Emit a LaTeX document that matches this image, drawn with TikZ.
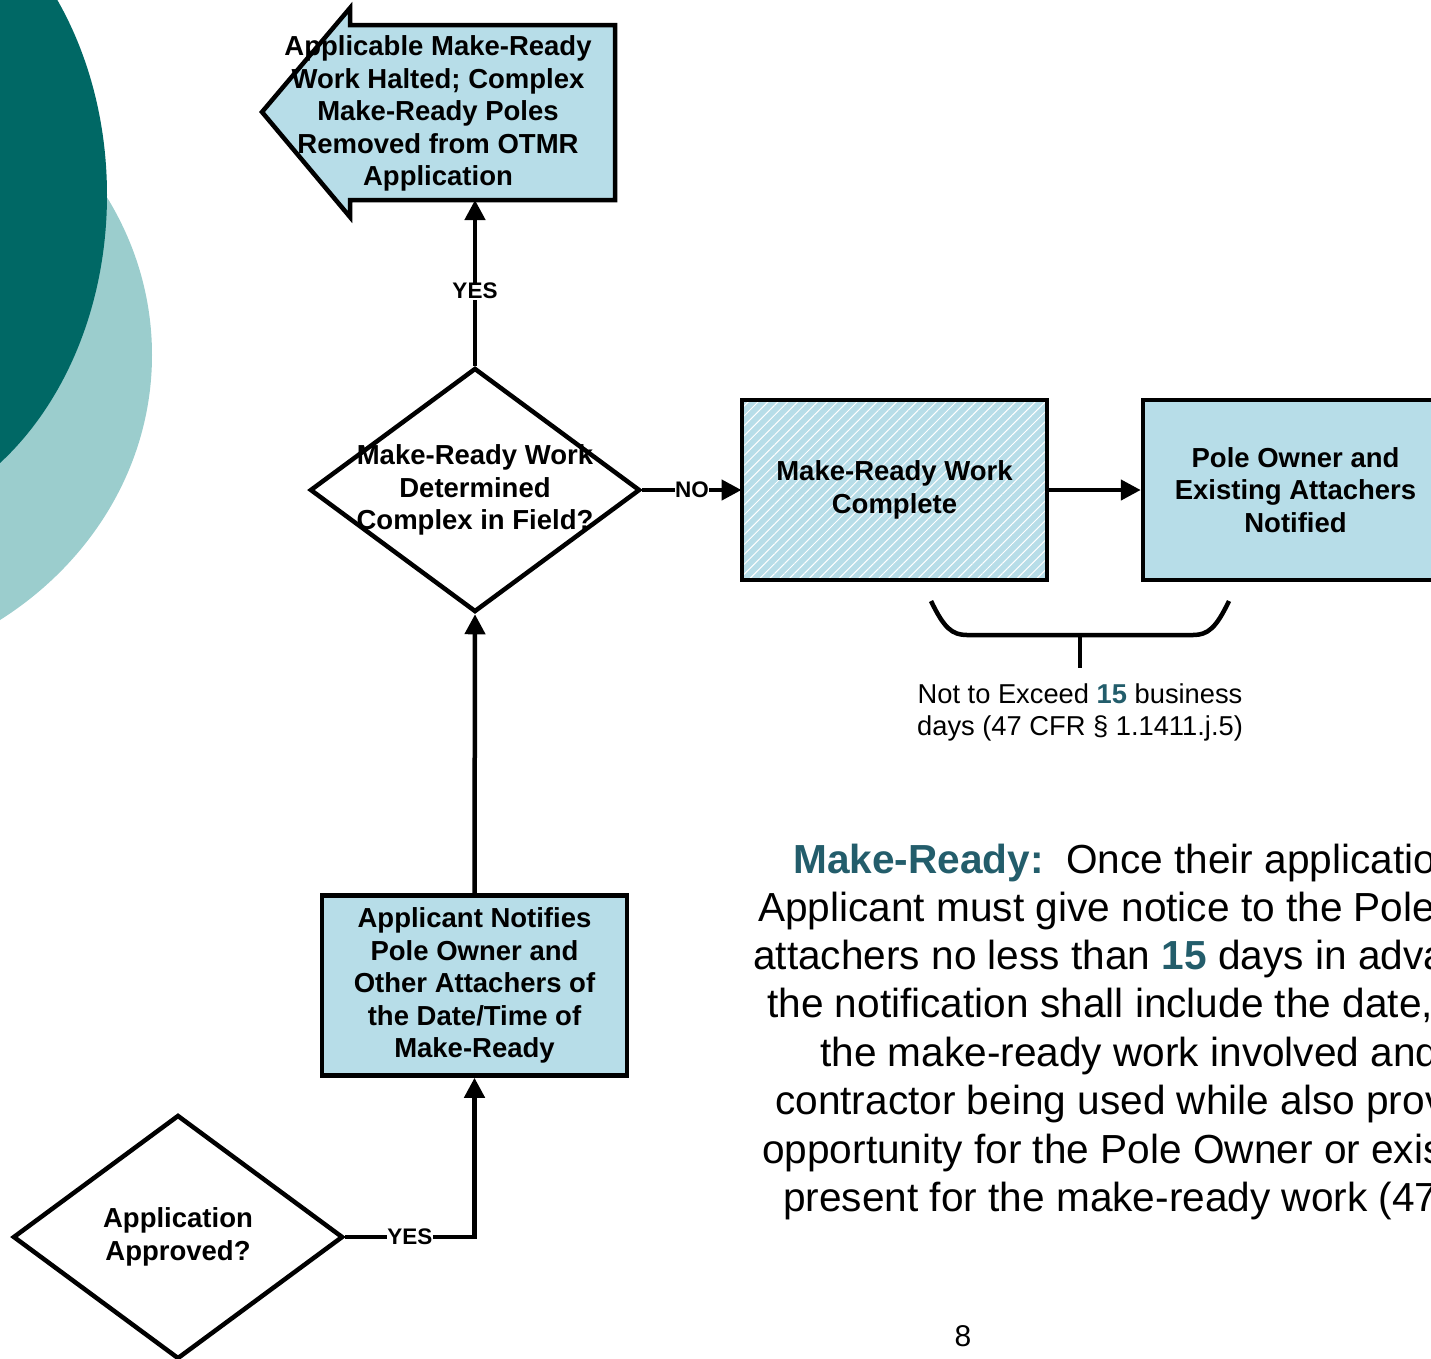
\documentclass[tikz,border=0pt]{standalone}
\usepackage{fontspec}
\setmainfont{Liberation Sans}
\usepackage{xcolor}
\usetikzlibrary{arrows.meta,shapes.geometric,patterns.meta}

\definecolor{boxblue}{RGB}{183,221,232}
\definecolor{deepteal}{RGB}{0,104,101}
\definecolor{paleteal}{RGB}{155,205,205}
\definecolor{keyteal}{RGB}{35,93,107}

\begin{document}
\begin{tikzpicture}[x=1pt,y=-1pt]
\tikzset{box/.style={draw,line width=4.5pt,fill=boxblue,minimum width=305pt,minimum height=180pt,inner sep=0pt}}
\tikzset{hatchbox/.style={draw,line width=4.5pt,preaction={fill=boxblue},pattern={Lines[angle=45,distance=7pt,line width=1pt]},pattern color=white,minimum width=305pt,minimum height=180pt,inner sep=0pt}}
\tikzset{decision/.style={diamond,draw,line width=4.5pt,fill=white,minimum width=330pt,minimum height=244pt,inner sep=0pt}}
\tikzset{flowtext/.style={font=\fontsize{27.5}{32.6}\selectfont\bfseries,align=center}}
\tikzset{conn/.style={line width=4.5pt,-{Triangle[length=20pt,width=20pt]}}}
\tikzset{answer/.style={fill=white,inner sep=0.5pt,font=\fontsize{22.5}{24}\selectfont\bfseries}}
\tikzset{bodyline/.style={anchor=base west,inner sep=0pt,font=\fontsize{40.6}{48}\selectfont}}

\useasboundingbox (0,0) rectangle (1431,1358);
\clip (0,0) rectangle (1431,1358);

\fill[paleteal] (-200,355) ellipse [x radius=352, y radius=322];
\fill[deepteal] (-150,195) ellipse [x radius=257, y radius=330];

\draw[line width=4.5pt,fill=boxblue] (615,25) -- (350,25) -- (350,8) -- (262,112) -- (350,217) -- (350,200) -- (615,200) -- cycle;
\coordinate (haltfoot) at (475,200);
\node[flowtext] (halt) at (438,113.5) {Applicable Make-Ready\\Work Halted; Complex\\Make-Ready Poles\\Removed from OTMR\\Application};

\node[decision] (field) at (475,490) {};
\node[flowtext] (fieldtext) at (field) {Make-Ready Work\\Determined\\Complex in Field?};
\node[hatchbox,flowtext] (done) at (894.5,490) {Make-Ready Work\\Complete};
\node[box,flowtext] (notified) at (1295.5,490) {Pole Owner and\\Existing Attachers\\Notified};
\node[box,flowtext] (notice) at (474.5,985.5) {Applicant Notifies\\Pole Owner and\\Other Attachers of\\the Date/Time of\\Make-Ready};
\node[decision] (approved) at (178,1237) {};
\node[flowtext] (approvedtext) at (approved) {Application\\Approved?};

\draw[conn] (approved.east) -- node[answer] {YES} (approved.east -| notice.south) -- (notice.south);
\draw[conn] (notice.north) -- (field.south);
\draw[conn] (field.north) -- node[answer,pos=0.45] {YES} (haltfoot);
\draw[conn] (field.east) -- node[answer] {NO} (done.west);
\draw[conn] (done.east) -- (notified.west);

\draw[line width=4.5pt] (931,601) .. controls (944,628) and (952,635) .. (967,635) -- (1193,635) .. controls (1208,635) and (1216,628) .. (1229,601);
\draw[line width=4.5pt] (1080,635) -- (1080,668);
\node[font=\fontsize{27.3}{32}\selectfont,align=center] (limit) at (1080,712) {Not to Exceed \textbf{\color{keyteal}15} business\\days (47 CFR § 1.1411.j.5)};

\foreach \lx/\ly/\ltext [count=\k] in {
  793/873/{\textbf{\color{keyteal}Make-Ready:}\ \ Once their application},
  758/921/{Applicant must give notice to the Pole},
  753/969/{attachers no less than \textbf{\color{keyteal}15} days in advance},
  767/1017/{the notification shall include the date,},
  820/1066/{the make-ready work involved and},
  775/1114/{contractor being used while also provide},
  762/1163/{opportunity for the Pole Owner or existing},
  783/1211/{present for the make-ready work (47}}
  \node[bodyline] (line\k) at (\lx,\ly) {\ltext};

\node[font=\fontsize{30}{36}\selectfont] (pageno) at (963,1336) {8};

\end{tikzpicture}
\end{document}
